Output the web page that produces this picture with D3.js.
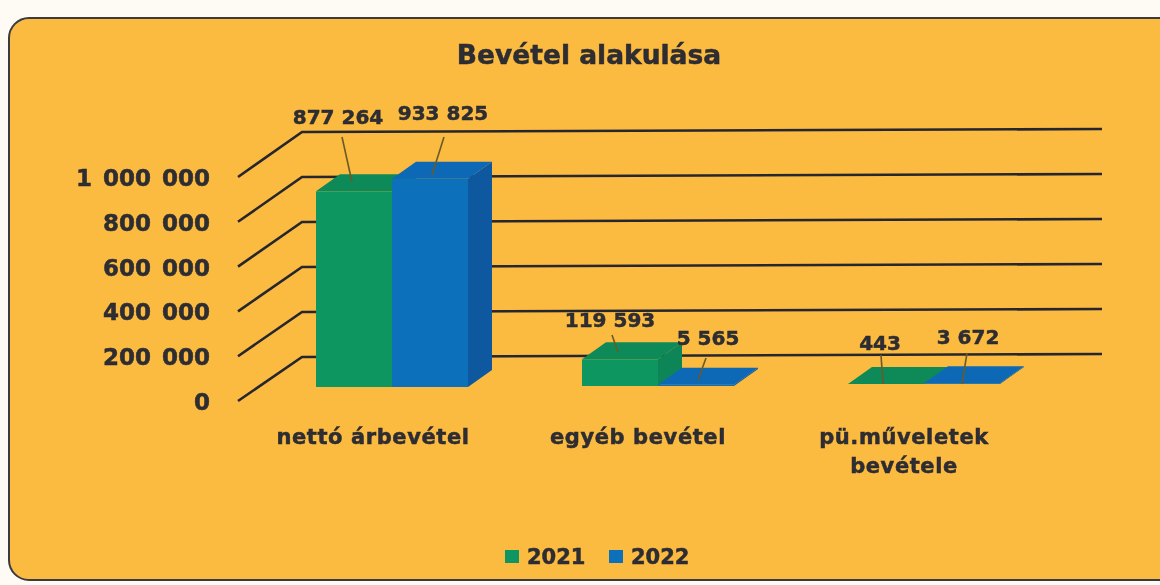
<!DOCTYPE html>
<html><head><meta charset="utf-8">
<script src="https://cdn.jsdelivr.net/npm/d3@7"></script>
<style>html,body{margin:0;padding:0;background:#fdfbf4;overflow:hidden}
text{font-family:"DejaVu Sans",sans-serif;font-weight:bold;fill:#2d2d33;stroke:#2d2d33;stroke-width:0.5px}</style>
</head><body><svg id="c" width="1160" height="585"></svg>
<script>
const title = "Bevétel alakulása";
const categories = ["nettó árbevétel", "egyéb bevétel", "pü.műveletek bevétele"];
const series = ["2021", "2022"];
const values2021 = [877264, 119593, 443];
const values2022 = [933825, 5565, 3672];
const tickValues = [0, 200000, 400000, 600000, 800000, 1000000];

const svg = d3.select("#c");
const fmt = d3.formatLocale({decimal:",", thousands:" ", grouping:[3], currency:["",""]}).format(",d");
const root = svg.append("g").attr("filter", "url(#soft)");
svg.append("defs").append("filter").attr("id","soft").append("feGaussianBlur").attr("stdDeviation",0.55);

root.append("rect").attr("x",9).attr("y",18).attr("width",1175).attr("height",562).attr("rx",20)
  .attr("fill","#fbba40").attr("stroke","#3a3a40").attr("stroke-width",2);

root.append("text").attr("x",589).attr("y",64).attr("text-anchor","middle")
  .style("font-size","26.5px").text(title);

// scales
const yFront = d3.scaleLinear().domain([0,1000000]).range([401,177]);
const yBack = d3.scaleLinear().domain([0,1000000]).range([357,132]);
const barH = d3.scaleLinear().domain([0,1000000]).range([0,223]);
const x0 = d3.scalePoint().domain(categories).range([316,848]);
const x1 = d3.scaleBand().domain(series).range([0,152]);
const baseY = [387,386,384];
const depthX = 24, depthY = 17;

// axis labels and walls
root.append("g").selectAll("text").data(tickValues).join("text")
  .attr("x",210).attr("y",d=>yFront(d)+9).attr("text-anchor","end")
  .style("font-size","23px").attr("word-spacing","3px").text(d=>fmt(d));
root.append("g").selectAll("path").data(tickValues).join("path")
  .attr("fill","none").attr("stroke","#26262e").attr("stroke-width",2.6)
  .attr("d",d=>`M238,${yFront(d)}L302,${yBack(d)}L1102,${yBack(d)-3}`);

// bars
const poly = (pts)=>pts.map(p=>p.join(",")).join(" ");
const colours = {
  "2021":{front:"#0a9660",top:"#0a8a58",side:"#0a8556"},
  "2022":{front:"#0b70ba",top:"#0b69b6",side:"#10599e"}
};
const rows = series.flatMap((s,si)=>categories.map((c,ci)=>({s,c,ci,v:(si?values2022:values2021)[ci]})));
const g = root.append("g");
rows.sort((a,b)=>d3.ascending(a.ci,b.ci)||d3.ascending(a.s,b.s));
rows.forEach(d=>{
  const x=x0(d.c)+x1(d.s), w=x1.bandwidth(), b=baseY[d.ci], t=b-barH(d.v), col=colours[d.s];
  g.append("polygon").attr("points",poly([[x+w,b],[x+w+depthX,b-depthY],[x+w+depthX,t-depthY],[x+w,t]])).attr("fill",col.side);
  g.append("polygon").attr("points",poly([[x,t],[x+w,t],[x+w+depthX,t-depthY],[x+depthX,t-depthY]])).attr("fill",col.top);
  g.append("rect").attr("x",x).attr("y",t).attr("width",w).attr("height",b-t).attr("fill",col.front);
});

// data labels and leaders
const labelPos = [[338,117],[443,113],[610,320],[708,338],[880,343],[968,337]];
const leaderEnd = [[342,137,352,182],[444,137,432,175],[612,335,618,352],[706,358,698,380],[881,355,883,384],[967,353,962,384]];
const labelVals = [values2021[0],values2022[0],values2021[1],values2022[1],values2021[2],values2022[2]];
root.append("g").selectAll("line").data(leaderEnd).join("line")
  .attr("x1",d=>d[0]).attr("y1",d=>d[1]).attr("x2",d=>d[2]).attr("y2",d=>d[3])
  .attr("stroke","#6b5a2a").attr("stroke-width",1.6);
root.append("g").selectAll("text").data(labelVals).join("text")
  .attr("x",(d,i)=>labelPos[i][0]).attr("y",(d,i)=>labelPos[i][1]+7).attr("text-anchor","middle")
  .style("font-size","20px").text(d=>fmt(d));

// category labels
const catLines = [["nettó árbevétel"],["egyéb bevétel"],["pü.műveletek","bevétele"]];
const catX = [373,638,904];
catLines.forEach((ls,i)=>ls.forEach((l,j)=>root.append("text").attr("x",catX[i]).attr("y",444+j*29)
  .attr("text-anchor","middle").style("font-size","21px").attr("letter-spacing","0.6px").text(l)));

// legend
const legendX = [505,609];
series.forEach((s,i)=>{
  root.append("rect").attr("x",legendX[i]).attr("y",550).attr("width",14).attr("height",13).attr("fill",colours[s].front);
  root.append("text").attr("x",legendX[i]+22).attr("y",564).style("font-size","21px").text(s);
});
</script></body></html>
